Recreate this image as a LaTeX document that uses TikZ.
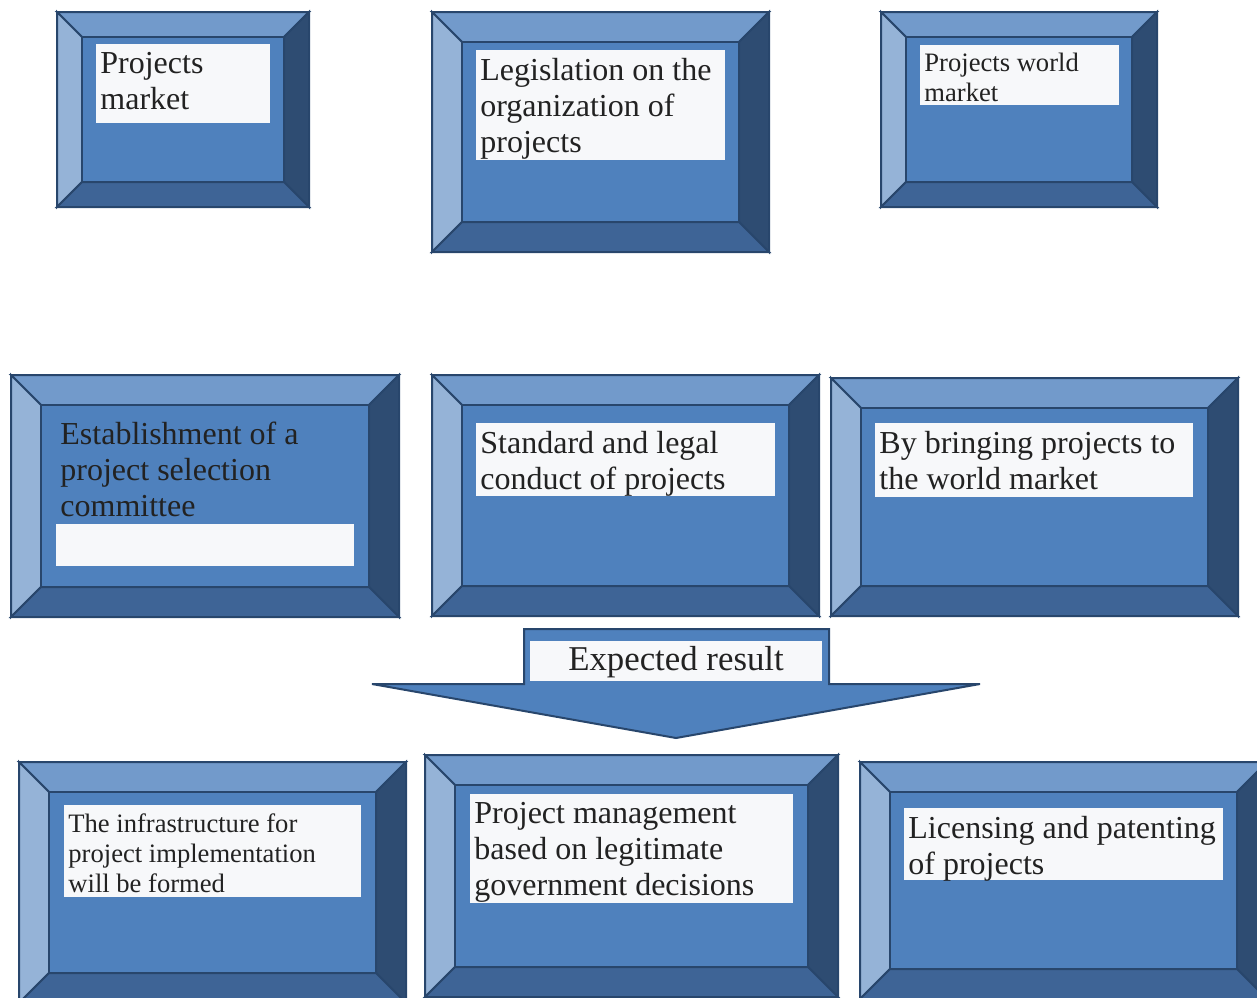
\documentclass[tikz,border=0pt]{standalone}
\usepackage{fontspec}
\setmainfont{Liberation Serif}
\usepackage{tikz}
\usetikzlibrary{calc}
\definecolor{FaceBlue}  {HTML}{4F81BD}
\definecolor{TopBlue}   {HTML}{729ACB}
\definecolor{LeftBlue}  {HTML}{95B3D7}
\definecolor{RightBlue} {HTML}{2E4C72}
\definecolor{BottomBlue}{HTML}{3E6496}
\definecolor{EdgeBlue}  {HTML}{28466C}
\definecolor{Paper}     {HTML}{F7F8FA}
\definecolor{Ink}       {HTML}{222222}

\tikzset{
  bevel/.style={draw=EdgeBlue, line width=1pt, line join=miter},
  paper/.style={fill=Paper},
  caption/.style={anchor=north west, align=left, inner xsep=2pt, inner ysep=4pt,
                  text=Ink, font=\fontsize{16}{18}\selectfont},
  smallcaption/.style={caption, font=\fontsize{13.3}{15}\selectfont},
}

% bevelled box: name, left, top, right, bottom, bevel width
\newcommand\bevelbox[6]{%
  \coordinate (#1-nw) at (#2,#3);
  \coordinate (#1-inw) at ({#2+#6},{#3+#6});
  \path[bevel, fill=TopBlue] (#2,#3) -- (#4,#3) -- ({#4-#6},{#3+#6}) -- ({#2+#6},{#3+#6}) -- cycle;
  \path[bevel, fill=LeftBlue] (#2,#3) -- ({#2+#6},{#3+#6}) -- ({#2+#6},{#5-#6}) -- (#2,#5) -- cycle;
  \path[bevel, fill=RightBlue] (#4,#3) -- (#4,#5) -- ({#4-#6},{#5-#6}) -- ({#4-#6},{#3+#6}) -- cycle;
  \path[bevel, fill=BottomBlue] (#2,#5) -- ({#2+#6},{#5-#6}) -- ({#4-#6},{#5-#6}) -- (#4,#5) -- cycle;
  \path[bevel, fill=FaceBlue] ({#2+#6},{#3+#6}) rectangle ({#4-#6},{#5-#6});
}

\begin{document}
\begin{tikzpicture}[x=0.5pt, y=-0.5pt]
  \useasboundingbox (0,0) rectangle (1257,997);
  \clip (0,0) rectangle (1257,997);

  % Top row
  \bevelbox{market}{57}{12}{309}{207}{25}
  \fill[paper] (96,44) rectangle (270,123);
  \node[caption] (marketText) at (96,44) {Projects\\market};

  \bevelbox{law}{432}{12}{769}{252}{30}
  \fill[paper] (476,50) rectangle (725,160);
  \node[caption] (lawText) at (476,50) {Legislation on the\\organization of\\projects};

  \bevelbox{world}{881}{12}{1157}{207}{25}
  \fill[paper] (920,45) rectangle (1119,105);
  \node[smallcaption] (worldText) at (920,45) {Projects world\\market};

  % Middle row
  \bevelbox{committee}{11}{375}{399}{617}{30}
  \node[caption] (committeeText) at (56,414) {Establishment of a\\project selection\\committee};
  \fill[paper] (56,524) rectangle (354,566);

  \bevelbox{conduct}{432}{375}{819}{616}{30}
  \fill[paper] (476,423) rectangle (775,496);
  \node[caption] (conductText) at (476,423) {Standard and legal\\conduct of projects};

  \bevelbox{bring}{831}{378}{1238}{616}{30}
  \fill[paper] (875,423) rectangle (1193,497);
  \node[caption] (bringText) at (875,423) {By bringing projects to\\the world market};

  % Arrow
  \path[bevel, fill=FaceBlue] (524,629) -- (829,629) -- (829,684) -- (980,684)
    -- (676,738) -- (372,684) -- (524,684) -- cycle;
  \fill[paper] (530,641) rectangle (822,681);
  \node[text=Ink, font=\fontsize{17.4}{20}\selectfont] (result) at (676,662) {Expected result};

  % Bottom row
  \bevelbox{infra}{19}{762}{406}{1003}{30}
  \fill[paper] (64,805) rectangle (361,897);
  \node[smallcaption] (infraText) at (64,805) {The infrastructure for\\project implementation\\will be formed};

  \bevelbox{manage}{425}{755}{838}{997}{30}
  \fill[paper] (470,794) rectangle (793,903);
  \node[caption] (manageText) at (470,794) {Project management\\based on legitimate\\government decisions};

  \bevelbox{licence}{860}{762}{1267}{999}{30}
  \fill[paper] (904,808) rectangle (1223,880);
  \node[caption] (licenceText) at (904,808) {Licensing and patenting\\of projects};
\end{tikzpicture}
\end{document}
